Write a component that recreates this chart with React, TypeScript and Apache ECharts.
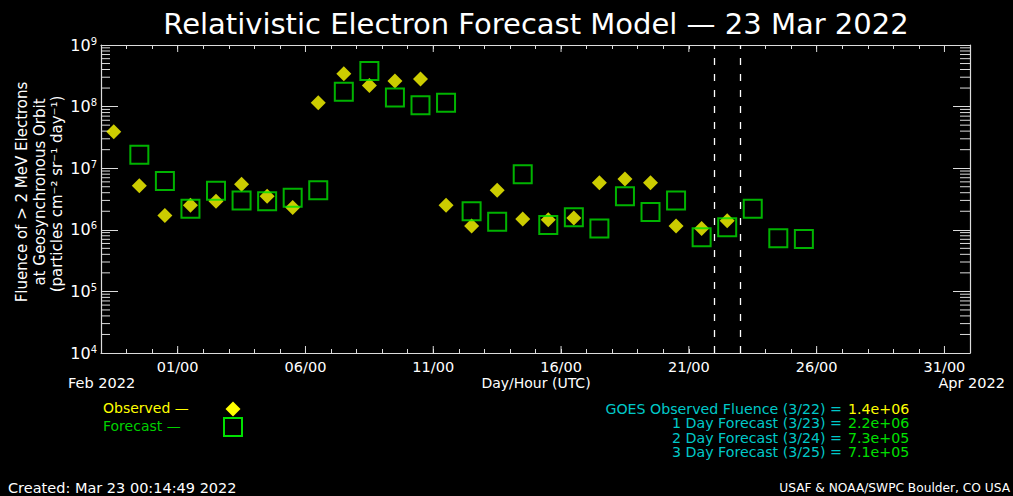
import React, { useEffect, useRef } from "react";
import * as echarts from "echarts";

// ---------- data ----------
const START_DATE = "2022-02-26";
const END_DATE = "2022-04-01";

const observedDates = [
  "2022-02-26", "2022-02-27", "2022-02-28", "2022-03-01", "2022-03-02",
  "2022-03-03", "2022-03-04", "2022-03-05", "2022-03-06", "2022-03-07",
  "2022-03-08", "2022-03-09", "2022-03-10", "2022-03-11", "2022-03-12",
  "2022-03-13", "2022-03-14", "2022-03-15", "2022-03-16", "2022-03-17",
  "2022-03-18", "2022-03-19", "2022-03-20", "2022-03-21", "2022-03-22",
];
const observedValues = [
  3.9e7, 5.2e6, 1.7e6, 2.5e6, 2.9e6,
  5.5e6, 3.5e6, 2.3e6, 1.15e8, 3.4e8,
  2.2e8, 2.6e8, 2.8e8, 2.5e6, 1.15e6,
  4.4e6, 1.5e6, 1.45e6, 1.55e6, 5.8e6,
  6.7e6, 5.8e6, 1.15e6, 1.05e6, 1.4e6,
];

const forecastDates = [
  "2022-02-27", "2022-02-28", "2022-03-01", "2022-03-02", "2022-03-03",
  "2022-03-04", "2022-03-05", "2022-03-06", "2022-03-07", "2022-03-08",
  "2022-03-09", "2022-03-10", "2022-03-11", "2022-03-12", "2022-03-13",
  "2022-03-14", "2022-03-15", "2022-03-16", "2022-03-17", "2022-03-18",
  "2022-03-19", "2022-03-20", "2022-03-21", "2022-03-22", "2022-03-23",
  "2022-03-24", "2022-03-25",
];
const forecastValues = [
  1.65e7, 6.2e6, 2.2e6, 4.3e6, 3.0e6,
  2.9e6, 3.3e6, 4.4e6, 1.75e8, 3.8e8,
  1.4e8, 1.05e8, 1.15e8, 2.0e6, 1.35e6,
  8.0e6, 1.2e6, 1.6e6, 1.05e6, 3.5e6,
  1.95e6, 3.0e6, 7.6e5, 1.1e6, 2.2e6,
  7.3e5, 7.1e5,
];

const dividerDates = ["2022-03-22", "2022-03-23"];

const xMajorTickDates = [
  "2022-03-01", "2022-03-06", "2022-03-11", "2022-03-16",
  "2022-03-21", "2022-03-26", "2022-03-31",
];
const xMajorTickLabels = ["01/00", "06/00", "11/00", "16/00", "21/00", "26/00", "31/00"];

const Y_MIN = 1e4;
const Y_MAX = 1e9;
const yMinorMantissas = [2, 3, 4, 5, 6, 7, 8, 9];
const yDecades = [4, 5, 6, 7, 8];

const summaryLabels = [
  "GOES Observed Fluence (3/22) =",
  "1 Day Forecast (3/23) =",
  "2 Day Forecast (3/24) =",
  "3 Day Forecast (3/25) =",
];
const summaryValues = ["1.4e+06", "2.2e+06", "7.3e+05", "7.1e+05"];

// ---------- helpers / styles ----------
const FONT = "DejaVu Sans";
const AXIS = "#dcdcdc";
const YELLOW = "#ffff00";
const GREEN = "#00e000";
const CYAN = "#00c8c8";

const DAY = 86400000;
const dayOffset = (s: string) =>
  (Date.parse(s + "T00:00:00Z") - Date.parse(START_DATE + "T00:00:00Z")) / DAY;
const X_MAX = dayOffset(END_DATE);

const yMinorTicks: number[] = [];
yDecades.forEach((e) => yMinorMantissas.forEach((m) => yMinorTicks.push(m * Math.pow(10, e))));
const xMajorTicks = xMajorTickDates.map(dayOffset);

export default function App() {
  const ref = useRef<HTMLDivElement>(null);

  useEffect(() => {
    if (!ref.current) return;
    const chart = echarts.init(ref.current, null, { renderer: "svg" });

    const obsData = observedDates.map((d, i) => [dayOffset(d) + 0.5, observedValues[i]]);
    const fcData = forecastDates.map((d, i) => [dayOffset(d) + 0.5, forecastValues[i]]);

    const xLabel = (v: number) => {
      const idx = xMajorTicks.findIndex((t) => Math.abs(t - v) < 1e-6);
      return idx >= 0 ? xMajorTickLabels[idx] : "";
    };

    const tickLine = (x1: number, y1: number, x2: number, y2: number) => ({
      type: "line",
      shape: { x1, y1, x2, y2 },
      style: { stroke: AXIS, lineWidth: 1 },
    });

    const xAxisBase = {
      type: "value",
      min: 0,
      max: X_MAX,
      interval: 1,
      axisLine: { show: true, onZero: false, lineStyle: { color: AXIS, width: 1.2 } },
      axisTick: { show: true, inside: true, length: 4, lineStyle: { color: AXIS } },
      splitLine: { show: false },
    };
    const yAxisBase = {
      type: "log",
      logBase: 10,
      min: Y_MIN,
      max: Y_MAX,
      splitNumber: 5,
      axisLine: { show: true, onZero: false, lineStyle: { color: AXIS, width: 1.2 } },
      axisTick: { show: true, inside: true, length: 17, lineStyle: { color: AXIS } },
      splitLine: { show: false },
      minorTick: { show: false },
    };

    const txt = (text: string, x: number, y: number, fill: string, fontSize: number, align: string, extra: any = {}) => ({
      type: "text",
      x,
      y,
      ...extra,
      style: { text, fill, fontFamily: FONT, fontSize, textAlign: align, textVerticalAlign: "middle" },
    });

    const summaryY = [408.5, 423, 437.5, 452];
    const graphics: any[] = [
      txt("Relativistic Electron Forecast Model — 23 Mar 2022", 536, 24, "#ffffff", 29, "center"),
      txt("Fluence of > 2 MeV Electrons", 22, 192, "#ffffff", 15, "center", { rotation: Math.PI / 2 }),
      txt("at Geosynchronous Orbit", 40, 192, "#ffffff", 15, "center", { rotation: Math.PI / 2 }),
      txt("(particles cm⁻² sr⁻¹ day⁻¹)", 57, 194, "#ffffff", 15, "center", { rotation: Math.PI / 2 }),
      txt("Feb 2022", 68, 383, "#ffffff", 14.5, "left"),
      txt("Day/Hour (UTC)", 536, 383, "#ffffff", 14, "center"),
      txt("Apr 2022", 1005, 383, "#ffffff", 14.5, "right"),
      txt("Observed —", 103, 408, YELLOW, 14, "left"),
      txt("Forecast —", 103, 426, "#00d000", 14, "left"),
      {
        type: "polygon",
        shape: { points: [[233, 401.5], [240.5, 409], [233, 416.5], [225.5, 409]] },
        style: { fill: YELLOW },
      },
      {
        type: "rect",
        shape: { x: 224, y: 418, width: 18, height: 18 },
        style: { fill: "none", stroke: GREEN, lineWidth: 2 },
      },
      txt("Created: Mar 23 00:14:49 2022", 8, 488, "#ffffff", 14.5, "left"),
      txt("USAF & NOAA/SWPC Boulder, CO USA", 1010, 488, "#ffffff", 12.2, "right"),
    ];
    summaryLabels.forEach((t, i) => {
      graphics.push(txt(t, 842, summaryY[i], CYAN, 14.2, "right"));
      graphics.push(txt(summaryValues[i], 848, summaryY[i], i === 0 ? YELLOW : GREEN, 14.2, "left"));
    });

    const option: any = {
      animation: false,
      backgroundColor: "#000000",
      grid: { left: 101, top: 45, right: 43, bottom: 143, containLabel: false },
      xAxis: [
        {
          ...xAxisBase,
          position: "bottom",
          axisLabel: {
            show: true,
            formatter: xLabel,
            color: "#ffffff",
            fontFamily: FONT,
            fontSize: 14.5,
            margin: 6,
          },
        },
        { ...xAxisBase, position: "top", axisLabel: { show: false } },
      ],
      yAxis: [
        {
          ...yAxisBase,
          position: "left",
          axisLabel: {
            show: true,
            margin: 4,
            formatter: (v: number) => `{b|10}{s|${Math.round(Math.log10(v))}}`,
            rich: {
              b: { fontFamily: FONT, fontSize: 16, color: "#ffffff", lineHeight: 18 },
              s: { fontFamily: FONT, fontSize: 10, color: "#ffffff", verticalAlign: "top", lineHeight: 10 },
            },
          },
        },
        { ...yAxisBase, position: "right", axisLabel: { show: false } },
      ],
      series: [
        {
          type: "custom",
          name: "yMinorTicks",
          coordinateSystem: "cartesian2d",
          silent: true,
          clip: false,
          data: yMinorTicks.map((v) => [0, v]),
          encode: { x: 0, y: 1 },
          renderItem: (_p: any, api: any) => {
            const v = api.value(1);
            const l = api.coord([0, v]);
            const r = api.coord([X_MAX, v]);
            return {
              type: "group",
              children: [tickLine(l[0], l[1], l[0] + 9, l[1]), tickLine(r[0] - 10, r[1], r[0], r[1])],
            };
          },
        },
        {
          type: "custom",
          name: "xMajorTicks",
          coordinateSystem: "cartesian2d",
          silent: true,
          clip: false,
          data: xMajorTicks.map((d) => [d, Y_MIN]),
          encode: { x: 0, y: 1 },
          renderItem: (_p: any, api: any) => {
            const d = api.value(0);
            const b = api.coord([d, Y_MIN]);
            const t = api.coord([d, Y_MAX]);
            return {
              type: "group",
              children: [tickLine(b[0], b[1], b[0], b[1] - 7), tickLine(t[0], t[1], t[0], t[1] + 7)],
            };
          },
        },
        {
          type: "scatter",
          name: "Observed",
          data: obsData,
          symbol: "diamond",
          symbolSize: [15, 15],
          itemStyle: { color: YELLOW },
          z: 3,
          markLine: {
            silent: true,
            symbol: ["none", "none"],
            label: { show: false },
            lineStyle: { color: "#ffffff", type: [7, 9], width: 1.3 },
            data: dividerDates.map((d) => ({ xAxis: dayOffset(d) })),
          },
        },
        {
          type: "scatter",
          name: "Forecast",
          data: fcData,
          symbol: "rect",
          symbolSize: [18, 18],
          itemStyle: { color: "rgba(0,0,0,0)", borderColor: GREEN, borderWidth: 2 },
          z: 4,
        },
      ],
      graphic: graphics,
    };

    chart.setOption(option);
    return () => chart.dispose();
  }, []);

  return (
    <div
      ref={ref}
      style={{ position: "fixed", left: 0, top: 0, width: 1013, height: 496, background: "#000" }}
    />
  );
}
